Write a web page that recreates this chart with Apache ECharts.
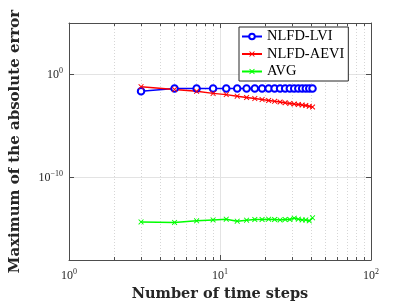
<!DOCTYPE html>
<html>
<head>
<meta charset="utf-8">
<script src="https://cdn.jsdelivr.net/npm/echarts@6/dist/echarts.min.js"></script>
<style>html,body{margin:0;padding:0;background:#fff;}#c{width:409px;height:307px;}</style>
</head>
<body>
<div id="c"></div>
<script>
const steps = [3,5,7,9,11,13,15,17,19,21,23,25,27,29,31,33,35,37,39,41];
const lvi = [0.0234,0.045,0.045,0.045,0.045,0.045,0.045,0.045,0.045,0.045,0.045,0.045,0.045,0.045,0.045,0.045,0.045,0.045,0.045,0.045];
const aevi = [0.066,0.036,0.0234,0.0148,0.0112,0.0079,0.0059,0.0046,0.0037,0.0030,0.0025,0.00214,0.00182,0.00158,0.00138,0.00123,0.00110,0.00098,0.00082,0.00070];
const avg = [5.0e-15,4.4e-15,6.3e-15,7.8e-15,9.1e-15,5.9e-15,7.4e-15,8.5e-15,8.5e-15,9.1e-15,8.5e-15,7.8e-15,8.5e-15,8.5e-15,1.15e-14,9.1e-15,7.8e-15,7.8e-15,6.3e-15,1.23e-14];
const seriesNames = ['NLFD-LVI','NLFD-AEVI','AVG'];
const xTickExps = [0,1,2];
const yTickExps = [0,-10];
const yMinorGrid = [1e-5,1e-15];
const xLabel = 'Number of time steps';
const yLabel = 'Maximum of the absolute error';

const serif = 'Liberation Serif';
const axisCol = '#4d4d4d';
const xMark = 'path://M0,1.2 L1.2,0 L5,3.8 L8.8,0 L10,1.2 L6.2,5 L10,8.8 L8.8,10 L5,6.2 L1.2,10 L0,8.8 L3.8,5 Z';

function supLabel(v, list){
  const e = Math.round(Math.log10(v));
  if (list.indexOf(e) < 0) return '';
  return '{b|10}{s|' + (e < 0 ? '\u2212' + (-e) : e) + '}';
}
const rich = {
  b:{fontFamily:serif,fontSize:12,color:'#262626'},
  s:{fontFamily:serif,fontSize:8,color:'#262626',verticalAlign:'top',padding:[0,0,7,0]}
};
const chart = echarts.init(document.getElementById('c'));
const pairs = arr => steps.map((x,i)=>[x,arr[i]]);
chart.setOption({
  animation:false,
  backgroundColor:'#fff',
  grid:{left:60,top:23,right:38,bottom:44,show:false},
  legend:{
    left:239,top:27,orient:'vertical',
    backgroundColor:'#fff',borderColor:'#262626',borderWidth:1,borderRadius:0,
    padding:[2,4,2,2],itemGap:2.5,itemWidth:20,itemHeight:7,
    textStyle:{fontFamily:serif,fontSize:14.5,color:'#000',lineHeight:15},
    data:seriesNames
  },
  xAxis:[{
    type:'log',min:1,max:100,logBase:10,
    name:xLabel,nameLocation:'middle',nameGap:27,
    nameTextStyle:{fontFamily:'DejaVu Serif',fontWeight:'bold',fontSize:14.5,color:'#262626'},
    axisLine:{show:true,lineStyle:{color:axisCol,width:1}},
    axisTick:{show:true,inside:true,length:5,lineStyle:{color:axisCol}},
    minorTick:{show:true,splitNumber:9,length:3,lineStyle:{color:axisCol}},
    axisLabel:{margin:8,formatter:v=>supLabel(v,xTickExps),rich:rich},
    splitLine:{show:true,lineStyle:{color:'#e3e3e3',width:1}},
    minorSplitLine:{show:true,lineStyle:{color:'#d6d6d6',type:[1,2],width:1}}
  },{
    type:'log',min:1,max:100,logBase:10,position:'top',
    axisLine:{show:true,lineStyle:{color:axisCol,width:1}},
    axisTick:{show:true,inside:true,length:5,lineStyle:{color:axisCol}},
    minorTick:{show:true,splitNumber:9,length:3,lineStyle:{color:axisCol}},
    axisLabel:{show:false},splitLine:{show:false}
  }],
  yAxis:[{
    type:'log',min:1e-18,max:1e5,logBase:10,
    name:yLabel,nameLocation:'middle',nameGap:46,
    nameTextStyle:{fontFamily:'DejaVu Serif',fontWeight:'bold',fontSize:15,color:'#262626'},
    axisLine:{show:true,lineStyle:{color:axisCol,width:1}},
    axisTick:{show:true,inside:true,length:5,lineStyle:{color:axisCol}},
    axisLabel:{margin:6,formatter:v=>supLabel(v,yTickExps),rich:rich},
    splitLine:{show:true,lineStyle:{color:'#e3e3e3',width:1}}
  },{
    type:'log',min:1e-18,max:1e5,logBase:10,position:'right',
    axisLine:{show:true,lineStyle:{color:axisCol,width:1}},
    axisTick:{show:true,inside:true,length:5,lineStyle:{color:axisCol}},
    axisLabel:{show:false},splitLine:{show:false}
  }],
  series:[
    {name:seriesNames[0],type:'line',data:pairs(lvi),
     symbol:'emptyCircle',symbolSize:6.5,
     lineStyle:{color:'#0000ff',width:1.5},
     itemStyle:{color:'#0000ff',borderColor:'#0000ff',borderWidth:1.5}},
    {name:seriesNames[1],type:'line',data:pairs(aevi),
     symbol:xMark,symbolSize:5.5,
     lineStyle:{color:'#ff0000',width:1.5},
     itemStyle:{color:'#ff0000'}},
    {name:seriesNames[2],type:'line',data:pairs(avg),
     symbol:xMark,symbolSize:5.5,
     lineStyle:{color:'#00ff00',width:1.5},
     itemStyle:{color:'#00ff00'},
     markLine:{silent:true,symbol:'none',label:{show:false},
       lineStyle:{color:'#d6d6d6',type:[1,2],width:1},
       data:yMinorGrid.map(v=>({yAxis:v}))}}
  ]
});
</script>
</body>
</html>
